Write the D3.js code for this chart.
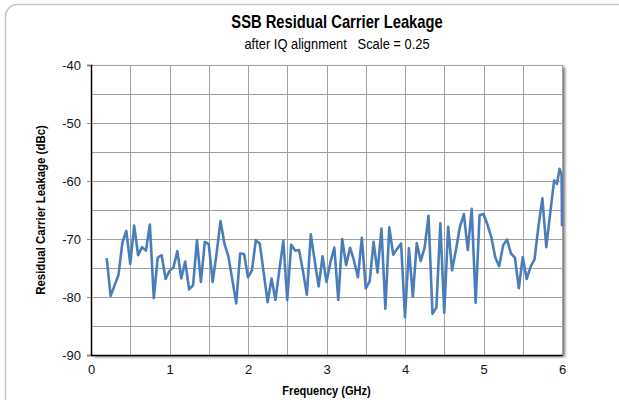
<html>
<head>
<meta charset="utf-8">
<script src="https://cdn.jsdelivr.net/npm/d3@7"></script>
<style type="text/css">
body { margin: 0; background: #fff; }
svg { font-family: "Liberation Sans", Arial, sans-serif; }
.title { font-size: 18px; font-weight: bold; }
.subtitle { font-size: 15px; }
.axis-title { font-size: 13px; font-weight: bold; }
.tick text { font-size: 13px; fill: #111; }
.grid line { stroke: #a0a0a0; stroke-width: 1px; shape-rendering: crispEdges; }
.line { fill: none; stroke: #4a7ebb; stroke-width: 2.6px; stroke-linejoin: round; }
</style>
</head>
<body>
<div id="chart"></div>
<script>
var freqGHz = [
  0.20, 0.25, 0.30, 0.35, 0.40, 0.45, 0.50, 0.55, 0.60, 0.65,
  0.70, 0.75, 0.80, 0.85, 0.90, 0.95, 1.00, 1.05, 1.10, 1.15,
  1.20, 1.25, 1.30, 1.35, 1.40, 1.45, 1.50, 1.55, 1.60, 1.65,
  1.70, 1.75, 1.80, 1.85, 1.90, 1.95, 2.00, 2.05, 2.10, 2.15,
  2.20, 2.25, 2.30, 2.35, 2.40, 2.45, 2.50, 2.55, 2.60, 2.65,
  2.70, 2.75, 2.80, 2.85, 2.90, 2.95, 3.00, 3.05, 3.10, 3.15,
  3.20, 3.25, 3.30, 3.35, 3.40, 3.45, 3.50, 3.55, 3.60, 3.65,
  3.70, 3.75, 3.80, 3.85, 3.90, 3.95, 4.00, 4.05, 4.10, 4.15,
  4.20, 4.25, 4.30, 4.35, 4.40, 4.45, 4.50, 4.55, 4.60, 4.65,
  4.70, 4.75, 4.80, 4.85, 4.90, 4.95, 5.00, 5.05, 5.10, 5.15,
  5.20, 5.25, 5.30, 5.35, 5.40, 5.45, 5.50, 5.55, 5.60, 5.65,
  5.70, 5.75, 5.80, 5.85, 5.90, 5.935, 5.97, 5.995, 6.00
];
var leakageDbc = [
  -73.3, -79.8, -78.0, -76.2, -70.6, -68.6, -74.3, -67.7, -72.8, -71.4,
  -72.0, -67.5, -80.2, -73.2, -72.8, -76.9, -75.5, -74.9, -72.1, -76.8,
  -73.9, -78.7, -78.0, -70.2, -77.4, -70.5, -70.9, -77.4, -72.5, -66.9,
  -70.8, -73.0, -77.0, -81.1, -72.5, -72.6, -76.6, -75.4, -70.2, -70.8,
  -75.8, -80.9, -76.8, -80.5, -75.3, -70.3, -80.5, -71.0, -72.0, -71.9,
  -75.5, -79.6, -69.2, -73.8, -78.2, -73.0, -77.4, -74.0, -71.5, -80.5,
  -70.0, -74.5, -71.5, -73.7, -76.6, -69.8, -78.5, -77.3, -70.5, -75.8,
  -68.2, -82.0, -68.0, -72.7, -71.7, -70.8, -83.5, -71.6, -79.9, -70.7,
  -73.8, -71.5, -66.0, -82.9, -81.8, -67.3, -82.7, -67.9, -75.4, -71.8,
  -67.9, -65.7, -71.9, -64.8, -81.0, -65.9, -65.7, -67.5, -69.7, -73.2,
  -74.7, -71.1, -70.1, -72.5, -73.2, -78.5, -73.1, -76.9, -74.8, -73.5,
  -67.8, -63.0, -71.4, -65.5, -59.9, -60.5, -57.9, -59.0, -67.8
];
var xTicks = [0, 1, 2, 3, 4, 5, 6];
var yTicks = [-40, -50, -60, -70, -80, -90];

var width = 619, height = 400;
var margin = {top: 65, right: 57, bottom: 45, left: 91};
var w = width - margin.left - margin.right;   // 471
var h = height - margin.top - margin.bottom;  // 290

var svg = d3.select("#chart").append("svg")
    .attr("width", width)
    .attr("height", height);

// drop shadow for the plot box
var defs = svg.append("defs");
var f = defs.append("filter").attr("id", "shadow")
    .attr("x", "-5%").attr("y", "-5%").attr("width", "115%").attr("height", "115%");
f.append("feDropShadow").attr("dx", 3).attr("dy", 2)
    .attr("stdDeviation", 1.5).attr("flood-color", "#000").attr("flood-opacity", 0.55);

// outer rounded frame
svg.append("rect")
    .attr("x", 5.5).attr("y", 4.5)
    .attr("width", 640).attr("height", 420)
    .attr("rx", 12).attr("ry", 12)
    .attr("fill", "none")
    .attr("stroke", "#c4c4c4")
    .attr("stroke-width", 1.5);

// condensed look: squeeze text horizontally
function narrowText(cls, tx, ty, rot, sx, str) {
    svg.append("text").attr("class", cls)
        .attr("transform", "translate(" + tx + "," + ty + ")" +
              (rot ? " rotate(" + rot + ")" : "") + " scale(" + sx + ",1)")
        .attr("text-anchor", "middle")
        .attr("xml:space", "preserve")
        .text(str);
}
narrowText("title", 337, 28, 0, 0.82, "SSB Residual Carrier Leakage");
narrowText("subtitle", 337, 49, 0, 0.86, "after IQ alignment   Scale = 0.25");

var g = svg.append("g")
    .attr("transform", "translate(" + margin.left + "," + margin.top + ")");

var x = d3.scaleLinear().domain([0, 6]).range([0, w]);
var y = d3.scaleLinear().domain([-90, -40]).range([h, 0]);

g.append("rect")
    .attr("width", w).attr("height", h)
    .attr("fill", "#fff")
    .attr("filter", "url(#shadow)");

// grid
var grid = g.append("g").attr("class", "grid");
grid.selectAll("line.v")
    .data(d3.range(0.5, 6.01, 0.5))
  .enter().append("line")
    .attr("x1", function(d) { return Math.round(x(d)) + 0.5; })
    .attr("x2", function(d) { return Math.round(x(d)) + 0.5; })
    .attr("y1", 0).attr("y2", h);
grid.selectAll("line.h")
    .data(d3.range(-85, -39, 5))
  .enter().append("line")
    .attr("x1", 0).attr("x2", w)
    .attr("y1", function(d) { return Math.round(y(d)) + 0.5; })
    .attr("y2", function(d) { return Math.round(y(d)) + 0.5; });

// series
var pts = freqGHz.map(function(fq, i) { return [fq, leakageDbc[i]]; });
g.append("path")
    .datum(pts)
    .attr("class", "line")
    .attr("d", d3.line()
        .x(function(d) { return x(d[0]); })
        .y(function(d) { return y(d[1]); }));

// axes
var plain = function(d) { return String(d); };
var yAxis = g.append("g")
    .call(d3.axisLeft(y).tickValues(yTicks).tickFormat(plain).tickSize(4).tickPadding(6));
yAxis.select(".domain").attr("stroke", "#000").attr("stroke-width", 1.5);
yAxis.selectAll(".tick line").attr("stroke", "#888");

var xAxis = g.append("g")
    .attr("transform", "translate(0," + h + ")")
    .call(d3.axisBottom(x).tickValues(xTicks).tickFormat(plain).tickSize(0).tickPadding(10));
xAxis.select(".domain").attr("stroke", "#000").attr("stroke-width", 1.5);

narrowText("axis-title", margin.left + w / 2, 395, 0, 0.85, "Frequency (GHz)");
narrowText("axis-title", 45, margin.top + h / 2, -90, 0.88, "Residual Carrier Leakage (dBc)");
</script>
</body>
</html>
